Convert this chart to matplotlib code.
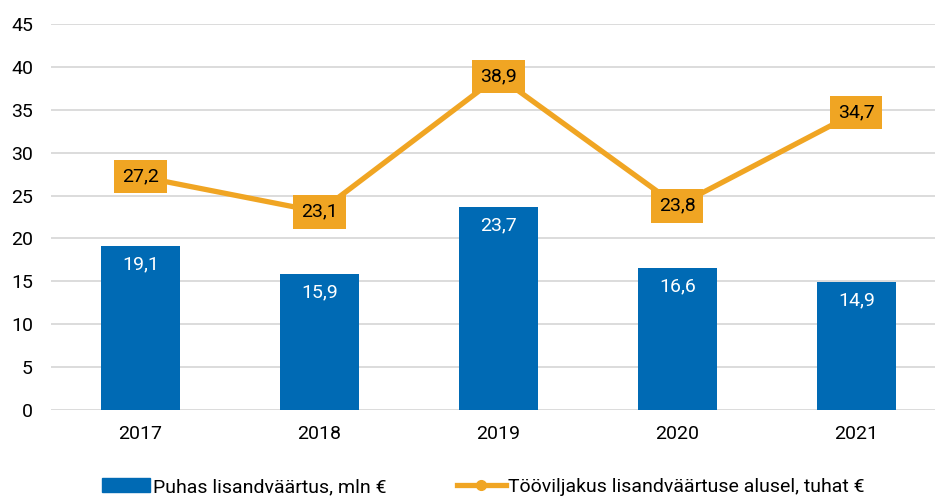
import matplotlib
matplotlib.use("Agg")
import matplotlib.pyplot as plt
from matplotlib.lines import Line2D
from matplotlib.patches import Patch

years = ["2017", "2018", "2019", "2020", "2021"]
puhas = [19.1, 15.9, 23.7, 16.6, 14.9]
tootlikkus = [27.2, 23.1, 38.9, 23.8, 34.7]
yticks = [0, 5, 10, 15, 20, 25, 30, 35, 40, 45]

blue = "#006AB4"
orange = "#F0A523"

plt.rcParams['font.family'] = ['Roboto', 'DejaVu Sans']

fig = plt.figure(figsize=(9.35, 4.96), dpi=100)
ax = fig.add_axes([51/935, 86/496, 884/935, 386/496])

x = list(range(len(years)))
ax.bar(x, puhas, width=0.44, color=blue, zorder=2)
ax.plot(x, tootlikkus, color=orange, lw=3.8, zorder=3, solid_capstyle='butt')

def fmt(v):
    return ("%.1f" % v).replace(".", ",")

for xi, v in zip(x, puhas):
    ax.text(xi, v - 1.1, fmt(v), ha='center', va='top', color='white',
            fontsize=14, zorder=4)
for xi, v in zip(x, tootlikkus):
    ax.text(xi, v, fmt(v), ha='center', va='center', color='black', fontsize=14,
            zorder=5, bbox=dict(boxstyle='square,pad=0.4', fc=orange, ec='none'))

ax.set_xlim(-0.5, 4.44)
ax.set_ylim(0, 45)
ax.set_yticks(yticks)
ax.set_xticks(x)
ax.set_xticklabels(years)
ax.tick_params(axis='both', length=0, labelsize=14, colors='black')
ax.tick_params(axis='x', pad=11)
ax.tick_params(axis='y', pad=13)
ax.grid(axis='y', color='#D9D9D9', lw=1.3, zorder=0)
for s in ax.spines.values():
    s.set_visible(False)

handles = [Patch(color=blue, label="Puhas lisandväärtus, mln €"),
           Line2D([0], [0], color=orange, lw=3.8, marker='o', ms=7,
                  label="Tööviljakus lisandväärtuse alusel, tuhat €")]
fig.legend(handles=handles, loc='lower center', bbox_to_anchor=(0.517, -0.035),
           ncol=2, frameon=False, fontsize=14, columnspacing=3.6,
           handlelength=2.5, handletextpad=0.15)

fig.savefig("out.png", dpi=100)
